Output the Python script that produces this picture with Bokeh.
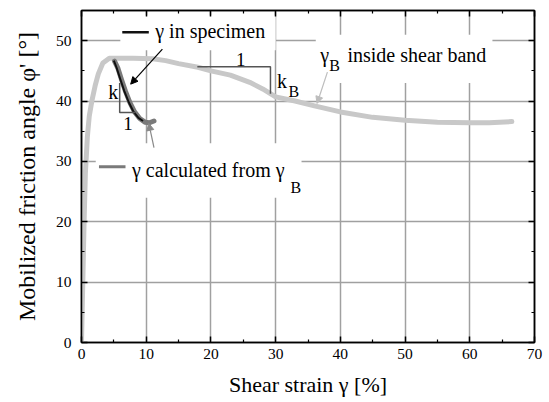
from bokeh.plotting import figure
from bokeh.models import FixedTicker, LinearAxis, Arrow, NormalHead, BoxAnnotation, Range1d, Label
from bokeh.embed import file_html
from bokeh.resources import INLINE

# ---- data ----
band_x = [0, 0.2, 0.4, 0.6, 0.9, 1.2, 1.6, 2.1, 2.6, 3.3, 4.3, 6, 8, 11, 13, 15, 18, 20, 23, 26, 28, 30,
          33, 36, 40, 45, 50, 55, 60, 63, 66.5]
band_y = [0, 10, 20, 28, 34, 37.5, 40, 42.5, 44.5, 46.3, 47.1, 47.1, 47.1, 47.0, 46.7, 46.2, 45.6, 45.0,
          44.3, 43.1, 42.0, 40.7, 40.0, 39.2, 38.2, 37.3, 36.8, 36.5, 36.4, 36.4, 36.6]
calc_x = [5.1, 5.6, 6.2, 6.8, 7.5, 8.2, 9.0, 9.8, 10.5, 11.2]
calc_y = [46.6, 45.5, 43.5, 41.6, 39.7, 38.2, 37.1, 36.5, 36.4, 36.7]
spec_x = [5.0, 5.4, 6.0, 6.6, 7.3, 8.0, 8.8, 9.5]
spec_y = [46.7, 45.6, 43.6, 41.7, 39.8, 38.3, 37.2, 36.7]

x_ticks = [0, 10, 20, 30, 40, 50, 60, 70]
x_minor = [5, 15, 25, 35, 45, 55, 65]
y_ticks = [0, 10, 20, 30, 40, 50]
y_minor = [5, 15, 25, 35, 45, 55]

FONT = "Liberation Serif"

p = figure(width=549, height=402, output_backend="svg", toolbar_location=None,
           x_range=Range1d(0, 70), y_range=Range1d(0, 55),
           min_border_left=81, min_border_right=15, min_border_top=10, min_border_bottom=60)
p.background_fill_color = "white"
p.border_fill_color = "white"
p.outline_line_color = "black"
p.outline_line_width = 1.5


def style_axis(ax, ticks, minor, labels=True, standoff=6):
    ax.ticker = FixedTicker(ticks=ticks, minor_ticks=minor)
    ax.axis_line_color = "black"
    ax.axis_line_width = 1.5
    ax.major_tick_in = 6
    ax.major_tick_out = 0
    ax.minor_tick_in = 3
    ax.minor_tick_out = 0
    ax.major_tick_line_color = "black"
    ax.major_tick_line_width = 1.5
    ax.minor_tick_line_color = "black"
    ax.minor_tick_line_width = 1.2
    ax.major_label_text_font = FONT
    ax.major_label_text_font_size = "15.5px"
    ax.major_label_text_color = "black"
    ax.major_label_standoff = standoff
    if not labels:
        ax.major_label_overrides = {t: "" for t in ticks}
        ax.major_label_standoff = 0


style_axis(p.xaxis[0], x_ticks, x_minor, standoff=6)
style_axis(p.yaxis[0], y_ticks, y_minor, standoff=10)
p.xaxis[0].axis_label = "Shear strain γ [%]"
p.yaxis[0].axis_label = "Mobilized friction angle φ' [°]"
for ax in (p.xaxis[0], p.yaxis[0]):
    ax.axis_label_text_font = FONT
    ax.axis_label_text_font_style = "normal"
    ax.axis_label_text_color = "black"
p.xaxis[0].axis_label_text_font_size = "22px"
p.yaxis[0].axis_label_text_font_size = "24px"
p.xaxis[0].axis_label_standoff = 10
p.yaxis[0].axis_label_standoff = 13

top = LinearAxis()
style_axis(top, x_ticks, x_minor, labels=False)
p.add_layout(top, "above")
right = LinearAxis()
style_axis(right, y_ticks, y_minor, labels=False)
p.add_layout(right, "right")

for g in (p.xgrid[0], p.ygrid[0]):
    g.grid_line_color = "#a0a0a0"
    g.grid_line_width = 1.5
    g.level = "image"
p.xgrid[0].ticker = FixedTicker(ticks=x_ticks[1:-1])
p.ygrid[0].ticker = FixedTicker(ticks=y_ticks[1:])

# white boxes behind annotation texts (cut the grid)
for l, r, b, t in [(6.0, 30.0, 48.4, 54.2), (2.2, 34.0, 24.0, 33.0), (36.2, 63.5, 43.0, 51.0)]:
    p.add_layout(BoxAnnotation(left=l, right=r, bottom=b, top=t, fill_color="white", fill_alpha=1,
                               line_alpha=0, level="underlay"))

# curves
p.line(band_x, band_y, line_color="#c8c8c8", line_width=5, line_join="round", line_cap="round")
p.line(calc_x, calc_y, line_color="#7a7a7a", line_width=5, line_join="round", line_cap="round")
p.line(spec_x, spec_y, line_color="#111111", line_width=2, line_join="round")

# slope triangles
p.line([5.9, 5.9, 8.35], [43.0, 38.1, 38.1], line_color="#555555", line_width=1.5)
p.line([17.9, 29.2, 29.2], [45.7, 45.7, 41.2], line_color="#555555", line_width=1.5)

# legend-like line segments
p.line([6.3, 10.4], [51.4, 51.4], line_color="#111111", line_width=2.5)
p.line([2.7, 6.8], [29.1, 29.1], line_color="#7a7a7a", line_width=3)


def txt(x, y, s, size="20px", align="left"):
    p.add_layout(Label(x=x, y=y, text=s, text_font=FONT, text_font_size=size,
                       text_align=align, text_baseline="middle", text_color="black"))


txt(11.4, 51.6, "γ in specimen")
txt(7.8, 28.6, "γ calculated from γ")
txt(32.3, 25.6, "B", size="16px")
txt(36.9, 47.7, "γ")
txt(38.3, 45.9, "B", size="16px")
txt(41.1, 47.7, "inside shear band")
txt(4.9, 41.5, "k", align="center")
txt(7.2, 36.3, "1", align="center", size="19px")
txt(24.6, 46.9, "1", align="center", size="19px")
txt(30.2, 43.4, "k")
txt(32.0, 41.5, "B", size="16px")

# arrows
p.add_layout(Arrow(x_start=12.5, y_start=48.6, x_end=7.6, y_end=42.8, line_color="black", line_width=1.2,
                   end=NormalHead(size=7, fill_color="black", line_color="black")))
p.add_layout(Arrow(x_start=11.2, y_start=32.3, x_end=10.4, y_end=36.3, line_color="#888888", line_width=1.2,
                   end=NormalHead(size=7, fill_color="#888888", line_color="#888888")))
p.add_layout(Arrow(x_start=38.0, y_start=44.8, x_end=36.4, y_end=39.6, line_color="#bdbdbd", line_width=1.2,
                   end=NormalHead(size=7, fill_color="#bdbdbd", line_color="#bdbdbd")))

open("out.html", "w").write(file_html(p, INLINE))
